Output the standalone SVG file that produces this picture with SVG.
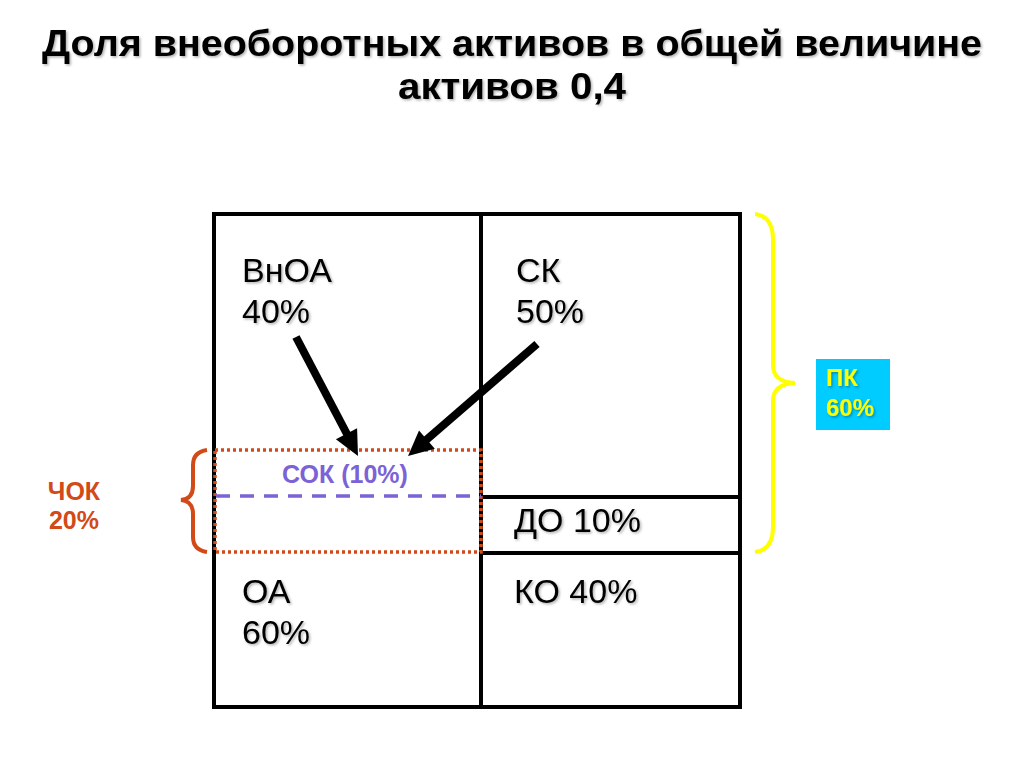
<svg xmlns="http://www.w3.org/2000/svg" width="1024" height="768" viewBox="0 0 1024 768">
<style>
.t{font-family:"Liberation Sans",Arial,sans-serif;}
.title{font-size:37px;font-weight:700;fill:#000;}
.lab{font-size:34px;fill:#000;}
.ln{stroke:#000;stroke-width:4;fill:none;}
.arr{stroke:#000;stroke-width:8;fill:none;}
</style>
<defs>
<filter id="sh" x="-10%" y="-10%" width="130%" height="130%">
<feDropShadow dx="1.5" dy="1.5" stdDeviation="1" flood-color="#000" flood-opacity="0.3"/>
</filter>
</defs>
<rect width="1024" height="768" fill="#fff"/>
<g id="title" filter="url(#sh)">
<text class="t title" x="42" y="56" textLength="940" lengthAdjust="spacingAndGlyphs">Доля внеоборотных активов в общей величине</text>
<text class="t title" x="398" y="99" textLength="228" lengthAdjust="spacingAndGlyphs">активов 0,4</text>
</g>
<g id="grid">
<rect class="ln" x="214" y="214" width="526" height="493"/>
<line class="ln" x1="481" y1="214" x2="481" y2="707"/>
<line class="ln" x1="481" y1="497" x2="740" y2="497"/>
<line class="ln" x1="481" y1="553" x2="740" y2="553"/>
</g>
<g id="chok-box">
<rect x="215" y="450" width="266" height="102" fill="none" stroke="#D24A17" stroke-width="3.5" stroke-dasharray="3,3"/>
<line x1="216" y1="496" x2="481" y2="496" stroke="#7B62D6" stroke-width="3.5" stroke-dasharray="14,10"/>
<text class="t" x="345" y="483" text-anchor="middle" font-size="25" font-weight="700" fill="#7B62D6">СОК (10%)</text>
</g>
<g id="vnoa" filter="url(#sh)"><text class="t lab" x="242" y="282">ВнОА</text><text class="t lab" x="242" y="323">40%</text></g>
<g id="sk" filter="url(#sh)"><text class="t lab" x="516" y="282">СК</text><text class="t lab" x="516" y="323">50%</text></g>
<g id="do" filter="url(#sh)"><text class="t lab" x="514" y="532">ДО 10%</text></g>
<g id="oa" filter="url(#sh)"><text class="t lab" x="242" y="603">ОА</text><text class="t lab" x="242" y="644">60%</text></g>
<g id="ko" filter="url(#sh)"><text class="t lab" x="514" y="603">КО 40%</text></g>
<g id="connectors">
<line class="arr" x1="296" y1="337" x2="348" y2="436"/>
<polygon points="358,456 357.1,428.3 335.9,439.3" fill="#000"/>
<line class="arr" x1="537" y1="344" x2="425" y2="441"/>
<polygon points="408,456 434.8,448.7 419,430.5" fill="#000"/>
</g>
<g id="pk">
<path d="M755,214 Q773,216 773,240 L773,365 Q773,382 795,383 Q773,384 773,401 L773,527 Q773,550 755,552" fill="none" stroke="#FFFF00" stroke-width="4"/>
<rect x="816" y="359" width="74" height="71" fill="#00CCFF"/>
<g filter="url(#sh)">
<text class="t" x="826" y="386" font-size="24" font-weight="700" fill="#FFFF00">ПК</text>
<text class="t" x="826" y="416" font-size="24" font-weight="700" fill="#FFFF00">60%</text>
</g>
</g>
<g id="chok">
<path d="M207,450 Q193,452 193,465 L193,486 Q193,499 181,500 Q193,501 193,514 L193,537 Q193,550 207,552" fill="none" stroke="#D24A17" stroke-width="4"/>
<text class="t" x="74" y="500" text-anchor="middle" font-size="25" font-weight="700" fill="#D24A17">ЧОК</text>
<text class="t" x="74" y="529" text-anchor="middle" font-size="25" font-weight="700" fill="#D24A17">20%</text>
</g>
</svg>
